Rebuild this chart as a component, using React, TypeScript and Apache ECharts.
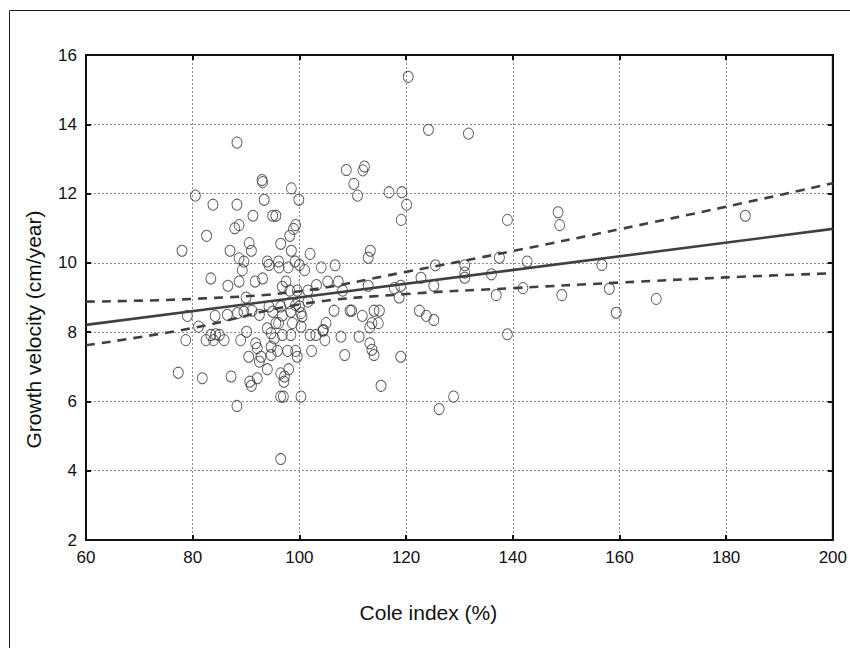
import React, { useEffect, useRef } from "react";
import * as echarts from "echarts";

const coleIndex = [
  120.4, 124.2, 131.7, 88.3, 93.0, 93.1, 98.5, 80.5, 83.8, 88.3, 93.4, 99.9, 91.3, 95.0, 95.6, 88.7, 87.9, 99.3, 98.9, 98.2,
  82.6, 78.0, 87.0, 90.6, 91.0, 96.5, 98.5, 102.0, 88.7, 89.6, 89.3, 94.0, 94.3, 96.1, 96.2, 97.9, 99.2, 100.0, 101.0, 104.1,
  83.4, 86.6, 88.7, 91.7, 93.1, 97.5, 96.8, 103.2, 105.3, 98.2, 99.6, 101.6, 90.0, 108.8, 112.2, 111.9, 110.2, 110.9, 116.8, 119.2,
  120.1, 119.1, 139.0, 148.5, 148.8, 113.3, 112.9, 106.7, 125.5, 131.0, 131.0, 131.0, 137.5, 142.7, 156.7, 136.0, 122.8, 125.2, 112.9, 107.3,
  108.1, 117.8, 119.0, 141.9, 136.9, 149.2, 118.7, 183.6, 158.1, 159.4, 166.9,
  79.0, 81.1, 84.2, 86.5, 88.4, 89.6, 91.1, 92.5, 94.3, 95.0, 96.5, 96.8, 98.1, 98.4, 100.0, 100.3, 100.5, 101.6, 99.3, 105.0,
  78.7, 82.5, 83.4, 84.3, 85.0, 83.9, 85.9, 89.0, 90.1, 91.8, 92.1, 90.5, 92.8, 92.5, 94.0, 94.7, 95.3, 95.6, 96.1, 96.8,
  98.4, 98.7, 100.3, 94.7, 95.9, 94.7, 97.8, 99.3, 99.6, 102.0, 102.3, 104.5, 103.1, 104.8, 94.0, 96.5, 98.0, 97.2, 97.1, 77.3,
  81.8, 87.2, 90.7, 91.0, 92.1, 96.5, 97.0, 100.3, 88.3, 96.5, 106.5, 109.5, 109.8, 111.8, 114.0, 115.0, 113.6, 114.8, 113.2, 122.5,
  123.8, 125.2, 104.4, 107.8, 111.2, 113.2, 113.6, 114.0, 108.5, 119.0, 139.0, 115.3, 128.9, 126.2,
];

const growthVelocity = [
  15.37, 13.84, 13.73, 13.47, 12.39, 12.33, 12.15, 11.94, 11.68, 11.68, 11.82, 11.82, 11.36, 11.36, 11.36, 11.09, 11.0, 11.09, 10.98, 10.78,
  10.78, 10.35, 10.35, 10.57, 10.35, 10.55, 10.35, 10.26, 10.13, 10.04, 9.79, 10.04, 9.94, 10.04, 9.87, 9.87, 10.04, 9.94, 9.79, 9.87,
  9.55, 9.34, 9.46, 9.46, 9.55, 9.46, 9.31, 9.36, 9.46, 9.2, 9.2, 9.2, 9.0, 12.68, 12.78, 12.67, 12.28, 11.94, 12.04, 12.04,
  11.68, 11.24, 11.24, 11.46, 11.09, 10.35, 10.15, 9.93, 9.93, 9.93, 9.72, 9.57, 10.15, 10.04, 9.94, 9.67, 9.57, 9.34, 9.34, 9.46,
  9.2, 9.27, 9.34, 9.27, 9.07, 9.07, 9.0, 11.36, 9.25, 8.56, 8.96,
  8.47, 8.16, 8.47, 8.5, 8.55, 8.59, 8.62, 8.5, 8.74, 8.59, 8.74, 8.48, 8.83, 8.59, 8.74, 8.55, 8.45, 8.88, 8.78, 8.26,
  7.77, 7.77, 7.92, 7.94, 7.92, 7.77, 7.77, 7.77, 8.01, 7.68, 7.54, 7.29, 7.29, 7.15, 8.11, 7.97, 7.82, 8.26, 8.26, 7.92,
  7.92, 8.26, 8.16, 7.58, 7.46, 7.34, 7.46, 7.46, 7.29, 7.92, 7.46, 8.06, 7.92, 7.77, 6.93, 6.81, 6.93, 6.72, 6.57, 6.83,
  6.67, 6.72, 6.57, 6.45, 6.67, 6.14, 6.14, 6.14, 5.87, 4.34, 8.62, 8.62, 8.62, 8.47, 8.62, 8.62, 8.26, 8.26, 8.14, 8.62,
  8.47, 8.35, 8.04, 7.87, 7.87, 7.68, 7.49, 7.34, 7.34, 7.29, 7.94, 6.45, 6.14, 5.78,
];

const fitX = [60, 200];
const fitY = [8.21, 10.98];

const bandX = [60, 80, 100, 120, 140, 160, 180, 200];
const upperBand = [8.88, 8.96, 9.18, 9.74, 10.34, 10.97, 11.62, 12.3];
const lowerBand = [7.62, 8.12, 8.8, 9.1, 9.27, 9.43, 9.58, 9.7];

const xTicks = [60, 80, 100, 120, 140, 160, 180, 200];
const yTicks = [2, 4, 6, 8, 10, 12, 14, 16];

const xTitle = "Cole index (%)";
const yTitle = "Growth velocity (cm/year)";

const FONT = "'Liberation Sans', Arial, sans-serif";

export default function App() {
  const ref = useRef<HTMLDivElement>(null);

  useEffect(() => {
    if (!ref.current) return;
    const chart = echarts.init(ref.current, null, { renderer: "svg" });

    const scatter = coleIndex.map((x, i) => [x, growthVelocity[i]]);
    const fit = fitX.map((x, i) => [x, fitY[i]]);
    const upper = bandX.map((x, i) => [x, upperBand[i]]);
    const lower = bandX.map((x, i) => [x, lowerBand[i]]);

    const xMin = xTicks[0];
    const xMax = xTicks[xTicks.length - 1];
    const yMin = yTicks[0];
    const yMax = yTicks[yTicks.length - 1];

    const gridLine = { show: true, lineStyle: { color: "#8a8a8a", type: [2, 2] as any, width: 1 } };

    chart.setOption({
      animation: false,
      backgroundColor: "#ffffff",
      graphic: [
        {
          type: "rect",
          shape: { x: 9.5, y: 10.5, width: 900, height: 700 },
          style: { fill: "none", stroke: "#222", lineWidth: 1 },
          silent: true,
          z: -10,
        },
      ],
      grid: { left: 86, right: 16, top: 55, bottom: 108, show: true, borderColor: "#111", borderWidth: 2, backgroundColor: "transparent" },
      xAxis: [
        {
          type: "value",
          min: xMin,
          max: xMax,
          interval: 20,
          position: "bottom",
          name: xTitle,
          nameLocation: "middle",
          nameGap: 62,
          nameTextStyle: { fontFamily: FONT, fontSize: 21, color: "#111", padding: [0, 62, 0, 0] },
          axisLine: { show: true, onZero: false, lineStyle: { color: "#111", width: 2 } },
          axisTick: { show: true, inside: true, length: 5, lineStyle: { color: "#111", width: 2 } },
          axisLabel: { fontFamily: FONT, fontSize: 17, color: "#111", margin: 9 },
          splitLine: gridLine,
        },
        {
          type: "value",
          min: xMin,
          max: xMax,
          interval: 20,
          position: "top",
          axisLine: { show: true, onZero: false, lineStyle: { color: "#111", width: 2 } },
          axisTick: { show: true, inside: true, length: 5, lineStyle: { color: "#111", width: 2 } },
          axisLabel: { show: false },
          splitLine: { show: false },
        },
      ],
      yAxis: [
        {
          type: "value",
          min: yMin,
          max: yMax,
          interval: 2,
          position: "left",
          name: yTitle,
          nameLocation: "middle",
          nameGap: 42,
          nameTextStyle: { fontFamily: FONT, fontSize: 21, color: "#111", padding: [0, 64, 0, 0] },
          axisLine: { show: true, onZero: false, lineStyle: { color: "#111", width: 2 } },
          axisTick: { show: true, inside: true, length: 5, lineStyle: { color: "#111", width: 2 } },
          axisLabel: { fontFamily: FONT, fontSize: 17, color: "#111", margin: 9 },
          splitLine: gridLine,
        },
        {
          type: "value",
          min: yMin,
          max: yMax,
          interval: 2,
          position: "right",
          axisLine: { show: true, onZero: false, lineStyle: { color: "#111", width: 2 } },
          axisTick: { show: true, inside: true, length: 5, lineStyle: { color: "#111", width: 2 } },
          axisLabel: { show: false },
          splitLine: { show: false },
        },
      ],
      series: [
        {
          type: "scatter",
          data: scatter,
          symbol: "circle",
          symbolSize: [10, 11],
          itemStyle: { color: "rgba(255,255,255,0)", borderColor: "#3a3a3a", borderWidth: 1 },
          z: 3,
        },
        {
          type: "line",
          data: fit,
          showSymbol: false,
          lineStyle: { color: "#404040", width: 2.6, type: "solid" },
          z: 4,
        },
        {
          type: "line",
          data: upper,
          smooth: 0.4,
          showSymbol: false,
          lineStyle: { color: "#404040", width: 2.6, type: [9, 7] as any },
          z: 4,
        },
        {
          type: "line",
          data: lower,
          smooth: 0.4,
          showSymbol: false,
          lineStyle: { color: "#404040", width: 2.6, type: [9, 7] as any },
          z: 4,
        },
      ],
    });

    return () => chart.dispose();
  }, []);

  return <div ref={ref} style={{ position: "absolute", left: 0, top: 0, width: 850, height: 648 }} />;
}
